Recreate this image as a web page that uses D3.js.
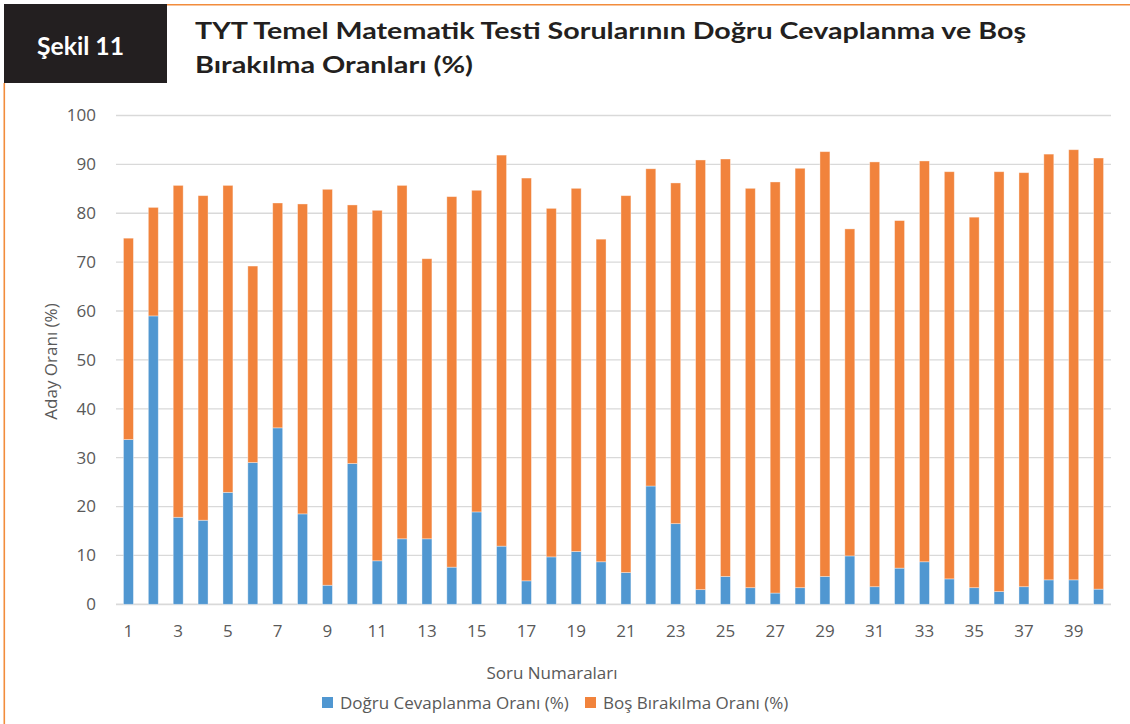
<!DOCTYPE html>
<html>
<head>
<meta charset="utf-8">
<script src="https://cdn.jsdelivr.net/npm/d3@7"></script>
<style>
  body { margin: 0; background: #fff; }
  svg { display: block; }
</style>
</head>
<body>
<div id="chart"></div>
<script>
// Şekil 11 - stacked bars, doğru cevaplanma + boş bırakılma

var questions = d3.range(1, 41);
var correctRates = [33.7, 59.0, 17.8, 17.2, 22.9, 29.0, 36.1, 18.5, 3.9, 28.8,
  8.9, 13.4, 13.4, 7.6, 18.9, 11.9, 4.8, 9.7, 10.8, 8.7,
  6.5, 24.2, 16.5, 3.0, 5.7, 3.4, 2.3, 3.4, 5.7, 9.9,
  3.6, 7.4, 8.7, 5.2, 3.4, 2.6, 3.6, 5.0, 5.0, 3.1];
var blankRates = [41.2, 22.2, 67.9, 66.4, 62.8, 40.2, 46.0, 63.4, 81.0, 52.9,
  71.7, 72.3, 57.3, 75.8, 65.8, 80.0, 82.4, 71.3, 74.3, 66.0,
  77.1, 64.9, 69.7, 87.9, 85.4, 81.7, 84.1, 85.8, 86.9, 66.9,
  86.9, 71.1, 82.0, 83.3, 75.8, 85.9, 84.7, 87.1, 88.0, 88.2];
var seriesNames = ["Doğru Cevaplanma Oranı (%)", "Boş Bırakılma Oranı (%)"];
var yTicks = [0, 10, 20, 30, 40, 50, 60, 70, 80, 90, 100];

var svgWidth = 1130;
var svgHeight = 724;

var margin = { top: 115.5, right: 19, bottom: 119.7, left: 116 };
var width = svgWidth - margin.left - margin.right;
var height = svgHeight - margin.top - margin.bottom;

var blue = "#5097d1";
var orange = "#f1833c";
var frameOrange = "#f28c3c";
var textGray = "#595959";

var svg = d3.select("#chart")
  .append("svg")
  .attr("width", svgWidth)
  .attr("height", svgHeight);

// header / frame
svg.append("rect")
  .attr("x", 4).attr("y", 4)
  .attr("width", 163).attr("height", 79)
  .attr("fill", "#231f20");

svg.append("line")
  .attr("x1", 167).attr("x2", svgWidth)
  .attr("y1", 4.8).attr("y2", 4.8)
  .attr("stroke", frameOrange).attr("stroke-width", 1.6);

svg.append("line")
  .attr("x1", 4.3).attr("x2", 4.3)
  .attr("y1", 83).attr("y2", svgHeight)
  .attr("stroke", frameOrange).attr("stroke-width", 1.6);

svg.append("text")
  .attr("x", 37).attr("y", 55)
  .attr("textLength", 87)
  .attr("lengthAdjust", "spacingAndGlyphs")
  .attr("font-family", "Lato, sans-serif")
  .attr("font-weight", 700)
  .attr("font-size", "24px")
  .attr("fill", "#fff")
  .text("Şekil 11");

var titleLines = ["TYT Temel Matematik Testi Sorularının Doğru Cevaplanma ve Boş", "Bırakılma Oranları (%)"];
var titleWidths = [831, 278];
svg.append("g")
  .selectAll("text")
  .data(titleLines)
  .enter()
  .append("text")
  .attr("x", 195)
  .attr("y", function(d, i) { return 38.5 + i * 34; })
  .attr("textLength", function(d, i) { return titleWidths[i]; })
  .attr("lengthAdjust", "spacingAndGlyphs")
  .attr("font-family", "Lato, sans-serif")
  .attr("font-weight", 700)
  .attr("font-size", "22.5px")
  .attr("fill", "#231f20")
  .text(function(d) { return d; });

var chartGroup = svg.append("g")
  .attr("transform", `translate(${margin.left}, ${margin.top})`);

var xScale = d3.scaleBand()
  .domain(questions)
  .range([0, width])
  .paddingInner(0.6)
  .paddingOuter(0.3);

var yScale = d3.scaleLinear()
  .domain([0, 100])
  .range([height, 0]);

// gridlines
chartGroup.append("g")
  .selectAll("line")
  .data(yTicks)
  .enter()
  .append("line")
  .attr("x1", 0).attr("x2", width)
  .attr("y1", function(d) { return yScale(d); })
  .attr("y2", function(d) { return yScale(d); })
  .attr("stroke", "#d9d9d9")
  .attr("stroke-width", function(d) { return d === 0 ? 1.8 : 1.3; });

// y axis labels
var leftAxis = d3.axisLeft(yScale).tickValues(yTicks).tickSize(0).tickPadding(20);
var yAxisG = chartGroup.append("g").call(leftAxis);
yAxisG.select(".domain").remove();
yAxisG.selectAll("text")
  .attr("font-family", "'Open Sans', sans-serif")
  .attr("font-size", "17px")
  .attr("fill", textGray);

// x axis labels (odd only)
var bottomAxis = d3.axisBottom(xScale)
  .tickValues(questions.filter(function(q) { return q % 2 === 1; }))
  .tickSize(0).tickPadding(21);
var xAxisG = chartGroup.append("g")
  .attr("transform", `translate(0, ${height})`)
  .call(bottomAxis);
xAxisG.select(".domain").remove();
xAxisG.selectAll("text")
  .attr("font-family", "'Open Sans', sans-serif")
  .attr("font-size", "17px")
  .attr("fill", textGray);

// stacked bars
var rows = questions.map(function(q, i) {
  return { q: q, correct: correctRates[i], blank: blankRates[i] };
});
var stacked = d3.stack().keys(["correct", "blank"])(rows);
var colors = [blue, orange];

chartGroup.append("g")
  .selectAll("g")
  .data(stacked)
  .enter()
  .append("g")
  .attr("fill", function(d, i) { return colors[i]; })
  .selectAll("rect")
  .data(function(d) { return d; })
  .enter()
  .append("rect")
  .attr("x", function(d) { return xScale(d.data.q); })
  .attr("y", function(d) { return yScale(d[1]); })
  .attr("width", xScale.bandwidth())
  .attr("height", function(d) { return yScale(d[0]) - yScale(d[1]); })
  .attr("stroke", "#fff")
  .attr("stroke-opacity", 0.45)
  .attr("stroke-width", 0.8);

// axis titles
svg.append("text")
  .attr("transform", "translate(57, 361.5) rotate(-90)")
  .attr("text-anchor", "middle")
  .attr("font-family", "'Open Sans', sans-serif")
  .attr("font-size", "17px")
  .attr("fill", textGray)
  .text("Aday Oranı (%)");

svg.append("text")
  .attr("x", 552).attr("y", 679)
  .attr("text-anchor", "middle")
  .attr("font-family", "'Open Sans', sans-serif")
  .attr("font-size", "17px")
  .attr("fill", textGray)
  .text("Soru Numaraları");

// legend
var legendX = [322, 585];
var legend = svg.append("g")
  .selectAll("g")
  .data(seriesNames)
  .enter()
  .append("g")
  .attr("transform", function(d, i) { return `translate(${legendX[i]}, 697)`; });

legend.append("rect")
  .attr("width", 11).attr("height", 11)
  .attr("fill", function(d, i) { return colors[i]; });

legend.append("text")
  .attr("x", 18).attr("y", 12)
  .attr("font-family", "'Open Sans', sans-serif")
  .attr("font-size", "17px")
  .attr("fill", textGray)
  .text(function(d) { return d; });
</script>
</body>
</html>
